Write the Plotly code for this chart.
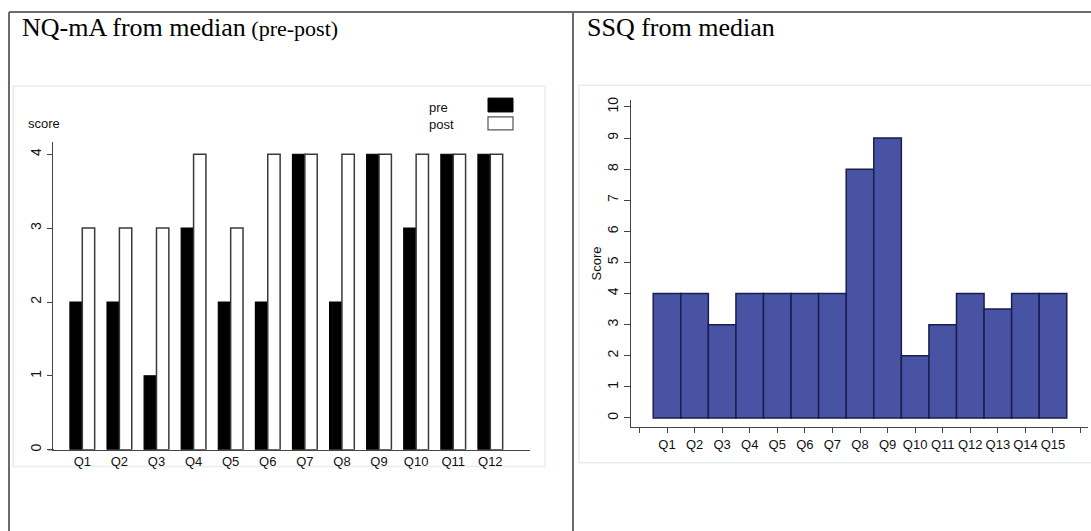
import plotly.graph_objects as go

# ---------------- data ----------------
nq_categories = ["Q1", "Q2", "Q3", "Q4", "Q5", "Q6", "Q7", "Q8", "Q9", "Q10", "Q11", "Q12"]
nq_pre = [2, 2, 1, 3, 2, 2, 4, 2, 4, 3, 4, 4]
nq_post = [3, 3, 3, 4, 3, 4, 4, 4, 4, 4, 4, 4]
nq_yticks = [0, 1, 2, 3, 4]

ssq_categories = ["Q1", "Q2", "Q3", "Q4", "Q5", "Q6", "Q7", "Q8", "Q9", "Q10",
                  "Q11", "Q12", "Q13", "Q14", "Q15"]
ssq_scores = [4, 4, 3, 4, 4, 4, 4, 8, 9, 2, 3, 4, 3.5, 4, 4]
ssq_yticks = list(range(0, 11))

W, H = 1091, 531


def px_x(p):
    return p / W


def px_y(p):
    return 1 - p / H


AX_FONT = dict(family="Arial, Liberation Sans, sans-serif", size=13, color="#111111")
TICK_FONT = dict(family="Arial, Liberation Sans, sans-serif", size=14, color="#111111")
SERIF = "Times New Roman, Liberation Serif, serif"

fig = go.Figure()

# left chart: grouped bars pre / post
fig.add_trace(go.Bar(
    x=nq_categories, y=nq_pre, name="pre", xaxis="x", yaxis="y",
    marker=dict(color="#000000", line=dict(color="#000000", width=1.2)),
    showlegend=False,
))
fig.add_trace(go.Bar(
    x=nq_categories, y=nq_post, name="post", xaxis="x", yaxis="y",
    marker=dict(color="#ffffff", line=dict(color="#3a3a3a", width=1.5)),
    showlegend=False,
))

# right chart: adjoining bars
ssq_x = list(range(1, len(ssq_categories) + 1))
fig.add_trace(go.Bar(
    x=ssq_x, y=ssq_scores, width=1, xaxis="x2", yaxis="y2",
    marker=dict(color="#4853A3", line=dict(color="#1b1d4f", width=1.5)),
    showlegend=False,
))

shapes = []
# outer table borders
border = dict(color="#6b6b6b", width=2)
shapes.append(dict(type="line", xref="paper", yref="paper", x0=px_x(9), x1=px_x(1095),
                   y0=px_y(9), y1=px_y(9), line=border))
shapes.append(dict(type="line", xref="paper", yref="paper", x0=px_x(9), x1=px_x(9),
                   y0=px_y(9), y1=px_y(535), line=border))
shapes.append(dict(type="line", xref="paper", yref="paper", x0=px_x(573), x1=px_x(573),
                   y0=px_y(9), y1=px_y(535), line=border))
# light panel frames
panel = dict(color="#e6eef0", width=1.5)
shapes.append(dict(type="rect", xref="paper", yref="paper", x0=px_x(13), x1=px_x(545),
                   y0=px_y(468), y1=px_y(84), line=panel, layer="below"))
shapes.append(dict(type="rect", xref="paper", yref="paper", x0=px_x(579), x1=px_x(1100),
                   y0=px_y(464), y1=px_y(83), line=panel, layer="below"))
# legend keys
shapes.append(dict(type="rect", xref="paper", yref="paper", x0=px_x(488), x1=px_x(513),
                   y0=px_y(110), y1=px_y(96), fillcolor="#000000",
                   line=dict(color="#000000", width=1)))
shapes.append(dict(type="rect", xref="paper", yref="paper", x0=px_x(488), x1=px_x(513),
                   y0=px_y(128), y1=px_y(115), fillcolor="#ffffff",
                   line=dict(color="#555555", width=1.2)))
# extend x axis line of left chart a bit to the left (like the original)
shapes.append(dict(type="line", xref="paper", yref="paper", x0=px_x(48), x1=px_x(54),
                   y0=px_y(451), y1=px_y(451), line=dict(color="#444444", width=1.2)))

annotations = [
    dict(text="NQ-mA from median<span style='font-size:22px'> (pre-post)</span>",
         xref="paper", yref="paper", x=px_x(20), y=px_y(25), xanchor="left", yanchor="middle",
         showarrow=False, font=dict(family=SERIF, size=26, color="#000000")),
    dict(text="SSQ from median",
         xref="paper", yref="paper", x=px_x(585), y=px_y(25), xanchor="left", yanchor="middle",
         showarrow=False, font=dict(family=SERIF, size=26, color="#000000")),
    dict(text="score", xref="paper", yref="paper", x=px_x(26), y=px_y(122),
         xanchor="left", yanchor="middle", showarrow=False, font=AX_FONT),
    dict(text="pre", xref="paper", yref="paper", x=px_x(427), y=px_y(105),
         xanchor="left", yanchor="middle", showarrow=False, font=AX_FONT),
    dict(text="post", xref="paper", yref="paper", x=px_x(427), y=px_y(123),
         xanchor="left", yanchor="middle", showarrow=False, font=AX_FONT),
    dict(text="Score", xref="paper", yref="paper", x=px_x(597), y=px_y(263),
         xanchor="center", yanchor="middle", textangle=-90, showarrow=False, font=AX_FONT),
]

fig.update_layout(
    width=W, height=H,
    margin=dict(l=0, r=0, t=0, b=0),
    paper_bgcolor="#ffffff", plot_bgcolor="rgba(0,0,0,0)",
    barmode="group", bargap=1 / 3, bargroupgap=0,
    shapes=shapes, annotations=annotations,
    hovermode=False,
    xaxis=dict(
        domain=[px_x(53), px_x(530)], anchor="y",
        type="category", categoryorder="array", categoryarray=nq_categories,
        range=[-0.79, 12.07],
        showline=True, linecolor="#444444", linewidth=1.2,
        ticks="", showgrid=False, zeroline=False,
        tickfont=AX_FONT, fixedrange=True,
    ),
    yaxis=dict(
        domain=[px_y(451), px_y(140)], anchor="x",
        range=[0, 4.17], tickvals=nq_yticks, ticktext=[str(v) for v in nq_yticks],
        tickangle=-90, ticks="outside", ticklen=5, tickcolor="#444444",
        showline=True, linecolor="#444444", linewidth=1.2,
        showgrid=False, zeroline=False, tickfont=TICK_FONT,
    ),
    xaxis2=dict(
        domain=[px_x(631), px_x(1088)], anchor="y2",
        range=[-0.306, 16.27],
        tickvals=list(range(0, len(ssq_categories) + 2)),
        ticktext=[""] + ssq_categories + [""],
        ticks="outside", ticklen=5, tickcolor="#444444",
        showline=True, linecolor="#444444", linewidth=1.2,
        showgrid=False, zeroline=False, tickfont=AX_FONT,
    ),
    yaxis2=dict(
        domain=[px_y(428), px_y(98)], anchor="x2",
        range=[-0.29, 10.22], tickvals=ssq_yticks, ticktext=[str(v) for v in ssq_yticks],
        tickangle=-90, ticks="outside", ticklen=6, tickcolor="#444444",
        showline=True, linecolor="#444444", linewidth=1.2,
        showgrid=False, zeroline=False, tickfont=TICK_FONT,
    ),
)

fig.write_html(
    "out.html",
    config={"displayModeBar": False},
    post_script="document.body.style.margin='0';document.body.style.overflow='hidden';",
)
